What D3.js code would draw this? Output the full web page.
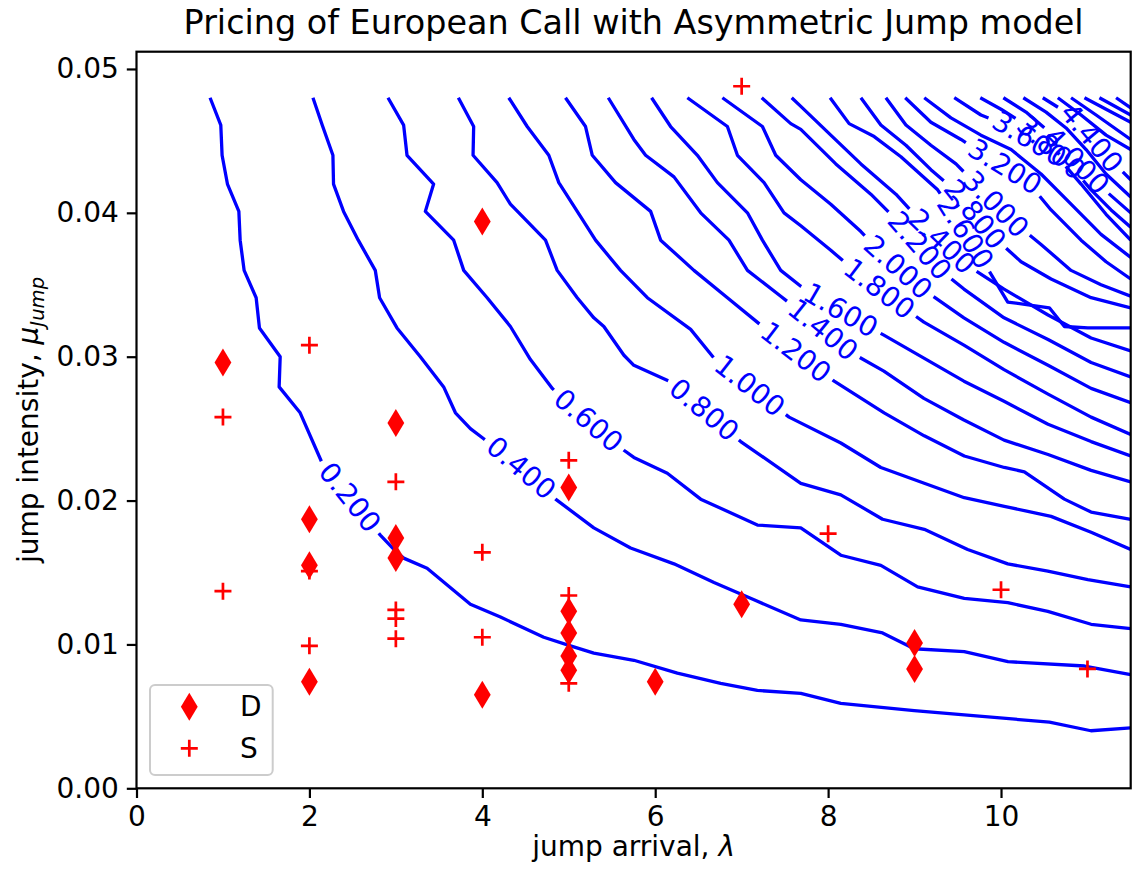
<!DOCTYPE html>
<html><head><meta charset="utf-8">
<script src="https://cdn.jsdelivr.net/npm/d3@7"></script>
<style>body{margin:0;background:#fff} svg text{font-family:"DejaVu Sans",sans-serif}</style>
</head><body><svg id="chart" width="1136" height="875"></svg>
<script>
// ---------------- data ----------------
const titleText = "Pricing of European Call with Asymmetric Jump model";
const xTicks = [0, 2, 4, 6, 8, 10];
const yTicks = [0, 0.01, 0.02, 0.03, 0.04, 0.05];
const xDomain = [0, 11.5];
const yDomain = [0, 0.0512];

const contourLevels = [0.2,0.4,0.6,0.8,1.0,1.2,1.4,1.6,1.8,2.0,2.2,2.4,2.6,2.8,3.0,3.2,3.4,3.6,3.8,4.0,4.2,4.4,4.6,4.8,5.0,5.2,5.4];
const contourPaths = [
 [[0.851,0.0480],[0.975,0.0461],[0.990,0.0440],[1.052,0.0420],[1.184,0.0401],[1.199,0.0381],[1.245,0.0360],[1.384,0.0341],[1.422,0.0320],[1.662,0.0300],[1.650,0.0279],[1.893,0.0261],[2.148,0.0226],[2.496,0.0200],[2.820,0.0176],[2.994,0.0165],[3.090,0.0160],[3.361,0.0153],[3.862,0.0128],[4.210,0.0119],[4.711,0.0105],[5.020,0.0099],[5.290,0.0094],[5.753,0.0089],[6.256,0.0080],[6.757,0.0073],[7.182,0.0068],[7.684,0.0066],[8.147,0.0059],[8.996,0.0054],[9.575,0.0051],[10.56,0.0046],[11.04,0.0040],[11.5,0.0042]],
 [[2.041,0.0480],[2.148,0.0461],[2.272,0.0440],[2.279,0.0420],[2.395,0.0401],[2.565,0.0381],[2.762,0.0360],[2.812,0.0341],[3.013,0.0320],[3.283,0.0300],[3.553,0.0279],[3.689,0.0261],[3.862,0.0250],[4.016,0.0243],[4.441,0.0223],[4.847,0.0201],[5.290,0.0181],[5.715,0.0167],[6.217,0.0156],[6.680,0.0143],[7.143,0.0131],[7.684,0.0117],[8.147,0.0114],[8.630,0.0108],[8.996,0.0097],[9.575,0.0095],[10.08,0.0088],[10.965,0.0085],[11.5,0.0079]],
 [[2.909,0.0480],[3.090,0.0461],[3.129,0.0440],[3.437,0.0420],[3.341,0.0401],[3.669,0.0381],[3.785,0.0360],[4.056,0.0341],[4.325,0.0321],[4.557,0.0298],[4.808,0.0278],[5.217,0.0256],[5.638,0.0235],[5.753,0.0230],[6.140,0.0219],[6.526,0.0201],[7.182,0.0183],[7.684,0.0181],[8.147,0.0162],[8.610,0.0155],[9.035,0.0140],[9.575,0.0132],[10.078,0.0129],[10.541,0.0123],[11.042,0.0114],[11.5,0.0111]],
 [[3.723,0.0480],[3.900,0.0460],[3.893,0.0440],[4.171,0.0421],[4.325,0.0406],[4.731,0.0381],[4.866,0.0360],[5.098,0.0341],[5.290,0.0327],[5.406,0.0321],[5.638,0.0301],[5.753,0.0294],[6.159,0.0283],[6.584,0.0262],[6.989,0.0241],[7.684,0.0212],[8.147,0.0204],[8.630,0.0187],[9.112,0.0180],[9.614,0.0166],[10.078,0.0156],[10.541,0.0151],[11.004,0.0145],[11.5,0.0140]],
 [[4.306,0.0480],[4.519,0.0460],[4.769,0.0440],[4.885,0.0421],[5.098,0.0401],[5.310,0.0381],[5.599,0.0360],[5.909,0.0341],[6.410,0.0319],[6.680,0.0299],[7.128,0.0278],[7.548,0.0258],[8.147,0.0240],[8.610,0.0223],[9.112,0.0212],[9.575,0.0202],[10.038,0.0196],[10.579,0.0189],[11.042,0.0178],[11.5,0.0166]],
 [[4.962,0.0480],[5.194,0.0460],[5.272,0.0440],[5.541,0.0421],[5.947,0.0401],[6.063,0.0381],[6.448,0.0360],[6.835,0.0341],[7.201,0.0323],[7.626,0.0303],[8.070,0.0283],[8.648,0.0261],[9.112,0.0245],[9.575,0.0231],[10.038,0.0223],[10.270,0.0220],[10.733,0.0201],[11.042,0.0192],[11.5,0.0187]],
 [[5.457,0.0480],[5.753,0.0451],[5.889,0.0440],[6.217,0.0425],[6.526,0.0400],[6.853,0.0381],[7.067,0.0360],[7.452,0.0342],[7.684,0.0331],[8.263,0.0303],[8.645,0.0290],[9.108,0.0271],[9.571,0.0256],[10.035,0.0242],[10.544,0.0232],[11.042,0.0221],[11.5,0.0213]],
 [[5.958,0.0480],[6.178,0.0460],[6.488,0.0440],[6.719,0.0421],[7.067,0.0400],[7.240,0.0381],[7.452,0.0360],[7.684,0.0349],[7.892,0.0341],[8.494,0.0320],[8.645,0.0315],[9.108,0.0299],[9.571,0.0283],[10.035,0.0269],[10.544,0.0253],[11.042,0.0241],[11.5,0.0231]],
 [[6.372,0.0480],[6.835,0.0460],[6.951,0.0440],[7.259,0.0421],[7.490,0.0400],[7.684,0.0391],[8.031,0.0374],[8.263,0.0362],[8.900,0.0333],[9.108,0.0324],[9.571,0.0308],[10.035,0.0291],[10.544,0.0274],[11.042,0.0258],[11.5,0.0246]],
 [[6.777,0.0480],[7.240,0.0460],[7.394,0.0440],[7.684,0.0423],[8.031,0.0406],[8.379,0.0387],[8.587,0.0374],[9.073,0.0348],[9.571,0.0327],[10.035,0.0310],[10.544,0.0294],[11.042,0.0278],[11.5,0.0268]],
 [[7.232,0.0480],[7.568,0.0462],[7.684,0.0458],[8.089,0.0434],[8.494,0.0413],[8.842,0.0392],[9.305,0.0360],[9.571,0.0347],[10.035,0.0327],[10.544,0.0312],[11.042,0.0296],[11.5,0.0286]],
 [[7.579,0.0480],[7.684,0.0474],[8.031,0.0454],[8.379,0.0434],[8.784,0.0413],[9.073,0.0394],[9.594,0.0364],[10.035,0.0347],[10.544,0.0329],[11.042,0.0313],[11.5,0.0304]],
 [[8.023,0.0480],[8.243,0.0462],[8.533,0.0453],[8.842,0.0439],[9.267,0.0416],[9.421,0.0402],[9.768,0.0369],[10.078,0.0338],[10.559,0.0334],[10.733,0.0321],[11.004,0.0320],[11.5,0.0320]],
 [[8.379,0.0480],[8.610,0.0461],[8.900,0.0447],[9.189,0.0430],[9.479,0.0415],[9.884,0.0385],[10.232,0.0366],[10.579,0.0354],[11.042,0.0341],[11.5,0.0334]],
 [[8.668,0.0480],[8.900,0.0461],[9.189,0.0447],[9.479,0.0434],[9.710,0.0420],[10.116,0.0395],[10.463,0.0378],[10.810,0.0360],[11.157,0.0350],[11.5,0.0342]],
 [[8.892,0.0480],[9.189,0.0463],[9.537,0.0451],[9.826,0.0440],[10.289,0.0423],[10.579,0.0402],[10.926,0.0381],[11.215,0.0366],[11.5,0.0354]],
 [[9.112,0.0480],[9.421,0.0466],[9.768,0.0454],[10.116,0.0444],[10.463,0.0427],[10.810,0.0406],[11.157,0.0385],[11.5,0.0369]],
 [[9.459,0.0480],[9.768,0.0468],[10.058,0.0461],[10.637,0.0440],[10.926,0.0420],[11.215,0.0399],[11.5,0.0381]],
 [[9.760,0.0480],[10.000,0.0472],[10.290,0.0461],[10.788,0.0434],[11.042,0.0416],[11.273,0.0402],[11.5,0.0390]],
 [[10.027,0.0480],[10.289,0.0470],[10.521,0.0458],[10.984,0.0429],[11.215,0.0415],[11.5,0.0400]],
 [[10.258,0.0480],[10.521,0.0470],[10.752,0.0459],[10.984,0.0444],[11.215,0.0427],[11.5,0.0411]],
 [[10.483,0.0480],[10.695,0.0472],[10.869,0.0465],[11.215,0.0440],[11.5,0.0423]],
 [[10.657,0.0480],[10.926,0.0468],[11.215,0.0454],[11.5,0.0444]],
 [[10.810,0.0480],[11.100,0.0468],[11.5,0.0451]],
 [[10.965,0.0480],[11.215,0.0472],[11.5,0.0463]],
 [[11.138,0.0480],[11.5,0.0468]],
 [[11.331,0.0480],[11.5,0.0473]]
];
// inline contour labels: [level, lambda, mu] (approximate location on the line)
const labelAt = [
 [0.2,2.476,0.02026],[0.4,4.430,0.02213],[0.6,5.310,0.02622],[0.8,6.555,0.02627],[1.0,7.140,0.02829],
 [1.2,7.625,0.03028],[1.4,7.939,0.03185],[1.6,8.169,0.03345],[1.8,8.610,0.03486],[2.0,8.807,0.03625],
 [2.2,9.050,0.03764],[2.4,9.340,0.03813],[2.6,9.571,0.03862],[2.8,9.730,0.04000],[3.0,9.919,0.04043],
 [3.2,10.058,0.04335],[3.6,10.347,0.0453],[3.8,10.555,0.04438],[4.0,10.788,0.04313],[4.4,11.042,0.04521]
];

// scatter series
const dLambda = [1,2,2,2,3,3,3,4,4,5,5,5,5,5,6,7,9,9];
const dMu     = [0.0296,0.0187,0.0155,0.0074,0.0254,0.0174,0.0160,0.0394,0.0065,0.0209,0.0123,0.0108,0.0092,0.0082,0.0074,0.0128,0.0101,0.0083];
const sLambda = [1,1,2,2,2,3,3,3,3,4,4,5,5,5,7,8,10,11];
const sMu     = [0.0258,0.0137,0.0308,0.0151,0.0099,0.0213,0.0124,0.0118,0.0104,0.0164,0.0105,0.0228,0.0134,0.0073,0.0488,0.0177,0.0138,0.0083];
const legendNames = ["D", "S"];

// ---------------- drawing ----------------
const svg = d3.select("#chart");
const M = {left:136.5, right:1130.7, top:51.7, bottom:788.3};
const x = d3.scaleLinear().domain(xDomain).range([M.left, M.right]);
const y = d3.scaleLinear().domain(yDomain).range([M.bottom, M.top]);
const BLUE = "#0000ff", RED = "#ff0000";
const FS = 28;

svg.append("defs").append("clipPath").attr("id","clip")
  .append("rect").attr("x",M.left).attr("y",M.top).attr("width",M.right-M.left).attr("height",M.bottom-M.top);

const plot = svg.append("g").attr("clip-path","url(#clip)");
const line = d3.line().x(d=>x(d[0])).y(d=>y(d[1]));
const fmt = d3.format(".3f");

const lineSel = plot.selectAll("path.contour").data(contourPaths).join("path")
  .attr("class","contour").attr("d", line)
  .attr("fill","none").attr("stroke",BLUE).attr("stroke-width",3.3)
  .attr("stroke-linejoin","round").attr("stroke-linecap","butt");

const labelG = plot.append("g");
labelAt.forEach(([lev, lx, ly]) => {
  const idx = contourLevels.findIndex(v => Math.abs(v-lev) < 1e-9);
  if (idx < 0) return;
  const node = lineSel.nodes()[idx];
  const total = node.getTotalLength();
  const ax = x(lx), ay = y(ly);
  let best = 0, bd = Infinity;
  for (let s = 0; s <= total; s += 1) {
    const p = node.getPointAtLength(s);
    const d = (p.x-ax)*(p.x-ax)+(p.y-ay)*(p.y-ay);
    if (d < bd) { bd = d; best = s; }
  }
  const p0 = node.getPointAtLength(best);
  const p1 = node.getPointAtLength(Math.max(0,best-12));
  const p2 = node.getPointAtLength(Math.min(total,best+12));
  let ang = Math.atan2(p2.y-p1.y, p2.x-p1.x)*180/Math.PI;
  if (ang > 90) ang -= 180; if (ang < -90) ang += 180;
  const t = labelG.append("text").text(fmt(lev))
    .attr("font-size",FS).attr("fill",BLUE)
    .attr("text-anchor","middle").attr("dominant-baseline","central")
    .attr("transform",`translate(${p0.x},${p0.y}) rotate(${ang})`);
  const w = t.node().getComputedTextLength();
  const gap = w + 12;
  const a = Math.max(0, best - gap/2);
  d3.select(node).attr("stroke-dasharray", `${a} ${gap} ${total+10}`);
});

// scatter
const diamond = "M0,-14L8.4,0L0,14L-8.4,0Z";
const plus = "M-8.5,0H8.5M0,-8.5V8.5";
const scat = svg.append("g");
scat.selectAll("path.d").data(dLambda.map((l,i)=>[l,dMu[i]])).join("path")
  .attr("d",diamond).attr("fill",RED)
  .attr("transform",d=>`translate(${x(d[0])},${y(d[1])})`);
scat.selectAll("path.s").data(sLambda.map((l,i)=>[l,sMu[i]])).join("path")
  .attr("d",plus).attr("fill","none").attr("stroke",RED).attr("stroke-width",2.7)
  .attr("transform",d=>`translate(${x(d[0])},${y(d[1])})`);

// axes
const xAxis = svg.append("g").attr("transform",`translate(0,${M.bottom})`)
  .call(d3.axisBottom(x).tickValues(xTicks).tickFormat(d3.format("d")).tickSize(9.7).tickPadding(8));
const yAxis = svg.append("g").attr("transform",`translate(${M.left},0)`)
  .call(d3.axisLeft(y).tickValues(yTicks).tickFormat(d3.format(".2f")).tickSize(9.7).tickPadding(8));
[xAxis,yAxis].forEach(g=>{
  g.select(".domain").remove();
  g.selectAll(".tick line").attr("stroke","#000").attr("stroke-width",2.2);
  g.selectAll(".tick text").attr("font-size",FS).attr("fill","#000").attr("font-family","DejaVu Sans");
});

svg.append("rect").attr("x",M.left).attr("y",M.top).attr("width",M.right-M.left).attr("height",M.bottom-M.top)
  .attr("fill","none").attr("stroke","#000").attr("stroke-width",2.2);

// title and axis labels
svg.append("text").attr("x",(M.left+M.right)/2).attr("y",34).attr("text-anchor","middle")
  .attr("font-size",33.4).attr("fill","#000").text(titleText);

const xl = svg.append("text").attr("x",(M.left+M.right)/2).attr("y",856).attr("text-anchor","middle")
  .attr("font-size",FS).attr("fill","#000");
xl.append("tspan").text("jump arrival, ");
xl.append("tspan").attr("font-style","italic").text("λ");

const yl = svg.append("text").attr("transform",`translate(38,${(M.top+M.bottom)/2}) rotate(-90)`)
  .attr("text-anchor","middle").attr("font-size",FS).attr("fill","#000");
yl.append("tspan").text("jump intensity, ");
yl.append("tspan").attr("font-style","italic").text("μ");
yl.append("tspan").attr("font-style","italic").attr("font-size",FS*0.7).attr("dy",6).text("Jump");

// legend
const lg = svg.append("g");
lg.append("rect").attr("x",150).attr("y",685).attr("width",122.7).attr("height",90).attr("rx",5)
  .attr("fill","#fff").attr("fill-opacity",0.8).attr("stroke","#cccccc").attr("stroke-width",2);
lg.append("path").attr("d",diamond).attr("fill",RED).attr("transform","translate(189.3,706.7)");
lg.append("path").attr("d",plus).attr("fill","none").attr("stroke",RED).attr("stroke-width",2.7).attr("transform","translate(189.3,748.3)");
lg.selectAll("text.lt").data(legendNames).join("text").attr("class","lt")
  .attr("x",240).attr("y",(d,i)=>i===0?706.7:748.3).attr("dominant-baseline","central")
  .attr("font-size",FS).attr("fill","#000").text(d=>d);
</script></body></html>
